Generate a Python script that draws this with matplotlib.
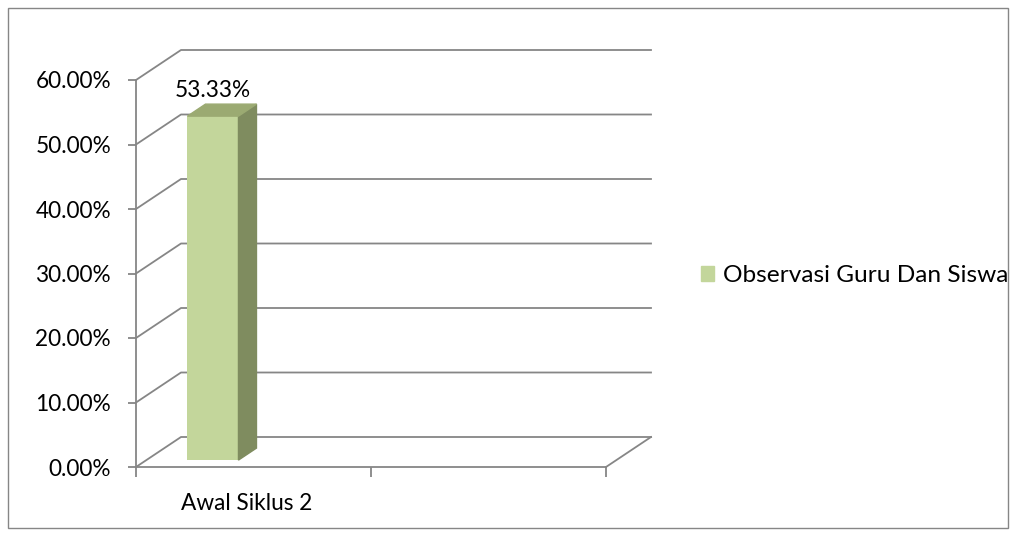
import numpy as np
import matplotlib
matplotlib.use("Agg")
import matplotlib.pyplot as plt
from matplotlib.patches import Polygon, Patch, Rectangle
from matplotlib.ticker import PercentFormatter

categories = ["Awal Siklus 2", ""]
values = [53.33, np.nan]
series_name = "Observasi Guru Dan Siswa"
y_ticks = [0, 10, 20, 30, 40, 50, 60]

plt.rcParams['font.family'] = ['Lato', 'DejaVu Sans']
grid_c = "#868686"
front_c, side_c, top_c = "#C3D69B", "#7F8C5F", "#9BAA72"
fs = 16.3

W, H = 1016, 536
fig = plt.figure(figsize=(W / 100, H / 100), dpi=100)
# front frame of the 3d plot, in pixels
x0p, x1p, y0p, y1p = 136, 606, 467, 80
ax = fig.add_axes([x0p / W, 1 - y0p / H, (x1p - x0p) / W, (y0p - y1p) / H])
ax.set_xlim(0, len(categories))
ax.set_ylim(0, 60)

# depth of the wall, in data units
dx = 45 / ((x1p - x0p) / len(categories))
dy = 30 / ((y0p - y1p) / 60)

n = len(categories)
for v in y_ticks:
    ax.plot([0, dx, n + dx], [v, v + dy, v + dy], color=grid_c, lw=1.3,
            clip_on=False, zorder=1)
ax.plot([n, n + dx], [0, dy], color=grid_c, lw=1.3, clip_on=False, zorder=1)

# bars: front face drawn by bar(), side/top faces from the same data
shift = 0.23
bdx, bdy = 0.4 * dx, 0.4 * dy
bw = 0.217
xs = np.arange(n) + 0.175 + shift * dx
bottom = shift * dy
bars = ax.bar(xs, values, width=bw, bottom=bottom, align='edge',
              color=front_c, zorder=3, clip_on=False)
for x, v in zip(xs, values):
    if np.isnan(v):
        continue
    top = bottom + v
    ax.add_patch(Polygon([(x + bw, bottom), (x + bw, top), (x + bw + bdx, top + bdy),
                          (x + bw + bdx, bottom + bdy)], closed=True, color=side_c,
                         zorder=3, clip_on=False))
    ax.add_patch(Polygon([(x, top), (x + bw, top), (x + bw + bdx, top + bdy),
                          (x + bdx, top + bdy)], closed=True, color=top_c,
                         zorder=3, clip_on=False))
ax.bar_label(bars, labels=[f"{v:.2f}%" if not np.isnan(v) else "" for v in values],
             padding=11, fontsize=fs)

for s in ["top", "right"]:
    ax.spines[s].set_visible(False)
for s in ["left", "bottom"]:
    ax.spines[s].set_color(grid_c)
    ax.spines[s].set_linewidth(1.3)
ax.set_yticks(y_ticks)
ax.yaxis.set_major_formatter(PercentFormatter(decimals=2))
ax.tick_params(axis='y', colors=grid_c, labelcolor='black', labelsize=fs,
               length=6, width=1.3, pad=12)
ax.set_xticks(np.arange(n + 1))
ax.set_xticklabels([])
ax.set_xticks(np.arange(n) + 0.47, categories, minor=True)
ax.tick_params(axis='x', which='major', colors=grid_c, length=7, width=1.3)
ax.tick_params(axis='x', which='minor', length=0, labelsize=fs, pad=19)
ax.patch.set_visible(False)

fig.legend(handles=[Patch(color=front_c, label=series_name)], loc='center left',
           bbox_to_anchor=(701 / W, 1 - 276 / H), frameon=False, fontsize=17.6,
           handlelength=0.55, handleheight=0.55, handletextpad=0.35, borderpad=0,
           borderaxespad=0)

fig.patches.append(Rectangle((8 / W, 8 / H), 1000 / W, 520 / H, transform=fig.transFigure,
                             fill=False, edgecolor=grid_c, lw=1, figure=fig))

fig.savefig("out.png", dpi=100)
